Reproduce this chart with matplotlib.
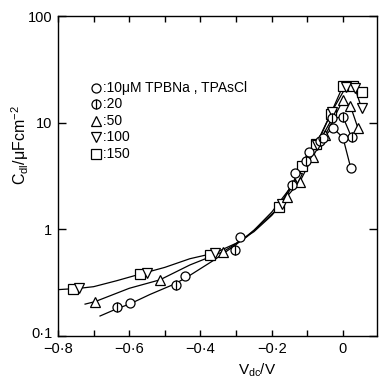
import matplotlib
matplotlib.use("Agg")
import matplotlib.pyplot as plt
import matplotlib.transforms as mtransforms
from matplotlib.ticker import FixedLocator, NullLocator, NullFormatter

plt.rcParams['font.family'] = ['Liberation Sans', 'DejaVu Sans']
plt.rcParams['mathtext.fontset'] = 'custom'
plt.rcParams['mathtext.rm'] = 'Liberation Sans'
plt.rcParams['mathtext.it'] = 'Liberation Sans'

# ---- data ----
sq_x = [-0.759, -0.570, -0.374, -0.179, -0.115, -0.075, -0.035, 0.0, 0.028, 0.052]
sq_y = [0.275, 0.382, 0.575, 1.63, 3.9, 6.3, 12.0, 22.1, 22.1, 19.5]

dn_x = [-0.74, -0.551, -0.36, -0.172, -0.13, -0.074, -0.032, 0.009, 0.033, 0.052]
dn_y = [0.28, 0.386, 0.60, 1.73, 3.0, 6.2, 12.6, 21.8, 21.3, 13.8]

up_x = [-0.696, -0.514, -0.336, -0.158, -0.121, -0.085, -0.05, 0.0, 0.021, 0.042]
up_y = [0.21, 0.336, 0.618, 2.02, 2.8, 4.8, 7.6, 16.3, 14.3, 8.9]

cb_x = [-0.635, -0.470, -0.304, -0.142, -0.103, -0.065, -0.03, 0.0, 0.024]
cb_y = [0.189, 0.299, 0.641, 2.6, 4.4, 6.8, 11.0, 11.3, 7.3]

ci_x = [-0.598, -0.444, -0.289, -0.135, -0.094, -0.055, -0.029, 0.0, 0.022]
ci_y = [0.206, 0.366, 0.855, 3.36, 5.35, 7.2, 9.0, 7.23, 3.74]

# smooth guide curves in the low-potential region
curve_hi_x = [-0.8, -0.74, -0.7, -0.635, -0.57, -0.5, -0.43, -0.36, -0.3, -0.25, -0.2, -0.179]
curve_hi_y = [0.272, 0.28, 0.29, 0.33, 0.38, 0.44, 0.53, 0.60, 0.74, 0.95, 1.35, 1.63]
curve_mid_x = [-0.724, -0.696, -0.6, -0.514, -0.43, -0.336, -0.27, -0.22, -0.18, -0.158]
curve_mid_y = [0.199, 0.21, 0.28, 0.336, 0.463, 0.618, 0.85, 1.2, 1.6, 2.02]
curve_lo_x = [-0.682, -0.635, -0.598, -0.542, -0.47, -0.43, -0.36, -0.3, -0.25, -0.2, -0.142]
curve_lo_y = [0.154, 0.18, 0.2, 0.245, 0.31, 0.37, 0.52, 0.72, 0.98, 1.45, 2.6]

legend_labels = [" :10\u03bcM TPBNa , TPAsCl", " :20", " :50", " :100", " :150"]
xticks = [-0.8, -0.6, -0.4, -0.2, 0.0]
xtick_labels = ["\u22120\u00b78", "\u22120\u00b76", "\u22120\u00b74", "\u22120\u00b72", "0"]
xminor = [-0.7, -0.5, -0.3, -0.1]
yticks = [0.1, 1, 10, 100]
ytick_labels = ["0\u00b71", "1", "10", "100"]

fig = plt.figure(figsize=(3.79, 3.78), dpi=100)
ax = fig.add_axes([58/379, 1-336/378, 319/379, 320/378])
ax.set_yscale('log')
ax.set_xlim(-0.8, 0.0955)
ax.set_ylim(0.1, 100)

lw = 0.9
# guide curves
for cx, cy in [(curve_hi_x, curve_hi_y), (curve_mid_x, curve_mid_y), (curve_lo_x, curve_lo_y)]:
    ax.plot(cx, cy, color='black', lw=lw, zorder=2)
# connecting lines in the peak region
for sx, sy, k in [(sq_x, sq_y, 3), (dn_x, dn_y, 3), (up_x, up_y, 3), (cb_x, cb_y, 3), (ci_x, ci_y, 3)]:
    ax.plot(sx[k:], sy[k:], color='black', lw=lw, zorder=2)

mkw = dict(linestyle='none', markerfacecolor='white', markeredgecolor='black',
           markeredgewidth=0.9, zorder=3)
ax.plot(sq_x, sq_y, marker='s', markersize=6.5, **mkw)
ax.plot(dn_x, dn_y, marker='v', markersize=7.5, **mkw)
ax.plot(up_x, up_y, marker='^', markersize=7.5, **mkw)
ax.plot(cb_x, cb_y, marker='o', markersize=6.5, **mkw)
ax.plot(cb_x, cb_y, marker='|', markersize=6.5, linestyle='none', color='black',
        markeredgewidth=0.9, zorder=4)
ax.plot(ci_x, ci_y, marker='o', markersize=6.5, **mkw)

# legend drawn as marker + text rows
markers = ['o', 'o', '^', 'v', 's']
sizes = [6.5, 6.5, 7.5, 7.5, 6.5]
for i, (lab, m, s) in enumerate(zip(legend_labels, markers, sizes)):
    yy = 0.775 - i * 0.0515
    ax.plot([0.119], [yy], transform=ax.transAxes, marker=m, markersize=s,
            clip_on=False, **mkw)
    if i == 1:
        ax.plot([0.119], [yy], transform=ax.transAxes, marker='|', markersize=s,
                linestyle='none', color='black', markeredgewidth=0.9, zorder=4)
    ax.text(0.128, yy, lab, transform=ax.transAxes, fontsize=10, va='center', ha='left')

# ticks
ax.xaxis.set_major_locator(FixedLocator(xticks))
ax.set_xticklabels(xtick_labels)
ax.xaxis.set_minor_locator(FixedLocator(xminor))
ax.yaxis.set_major_locator(FixedLocator(yticks))
ax.set_yticklabels(ytick_labels)
ax.yaxis.set_minor_locator(NullLocator())
ax.yaxis.set_minor_formatter(NullFormatter())
ax.tick_params(axis='x', which='both', direction='in', top=True, length=4.5, width=1.0,
               labelsize=10.5, pad=4.5)
ax.tick_params(axis='y', which='both', direction='in', right=True, length=6, width=1.0,
               labelsize=10.5, pad=4)
for sp in ax.spines.values():
    sp.set_linewidth(1.0)

# raise the lowest y label slightly so it clears the x labels (as in the reference)
fig.canvas.draw()
lab01 = ax.yaxis.get_majorticklabels()[0]
lab01.set_transform(lab01.get_transform() +
                    mtransforms.ScaledTranslation(0, 3/100, fig.dpi_scale_trans))

ax.set_xlabel("V$_{\\rm dc}$/V", fontsize=11)
ax.xaxis.set_label_coords(0.624, -0.08)
ax.set_ylabel("C$_{\\rm dl}$/\u03bcFcm$^{-2}$", fontsize=11.5)
ax.yaxis.set_label_coords(-0.085, 0.597)

fig.savefig("out.png", dpi=100)
